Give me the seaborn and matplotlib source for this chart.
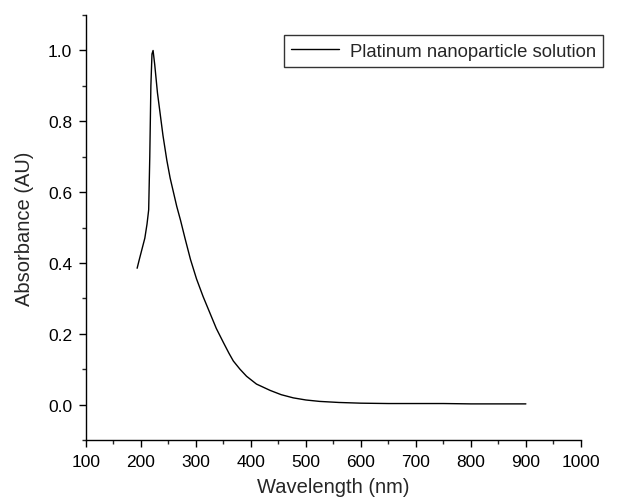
import matplotlib
matplotlib.use("Agg")
import matplotlib.pyplot as plt
import seaborn as sns
from matplotlib.ticker import MultipleLocator

wavelength = [193, 197, 202, 207, 211, 214, 216, 218, 220, 222, 225, 230, 235, 240,
              247, 253, 259, 265, 272, 280, 290, 301, 313, 325, 337, 350, 360, 368,
              380, 392, 410, 435, 455, 477, 500, 525, 560, 600, 650, 700, 750, 800,
              850, 900]
absorbance = [0.385, 0.41, 0.44, 0.47, 0.51, 0.55, 0.70, 0.90, 0.99, 1.0, 0.96, 0.88,
              0.82, 0.76, 0.69, 0.64, 0.60, 0.56, 0.52, 0.47, 0.41, 0.355, 0.305, 0.26,
              0.215, 0.175, 0.145, 0.123, 0.10, 0.08, 0.058, 0.04, 0.028, 0.019, 0.013,
              0.009, 0.006, 0.004, 0.003, 0.003, 0.003, 0.002, 0.002, 0.002]

sns.set_style("ticks")
plt.rcParams['font.family'] = ['Liberation Sans', 'DejaVu Sans']

fig = plt.figure(figsize=(6.3, 5.02), dpi=100)
ax = fig.add_axes([0.1365, 0.1215, 0.7855, 0.8465])

sns.lineplot(x=wavelength, y=absorbance, color="black", linewidth=1.0,
             label="Platinum nanoparticle solution", ax=ax)

ax.set_xlim(100, 1000)
ax.set_ylim(-0.1, 1.1)
ax.xaxis.set_major_locator(MultipleLocator(100))
ax.xaxis.set_minor_locator(MultipleLocator(50))
ax.yaxis.set_major_locator(MultipleLocator(0.2))
ax.yaxis.set_minor_locator(MultipleLocator(0.1))
ax.yaxis.set_major_formatter(plt.FormatStrFormatter('%.1f'))
ax.tick_params(which="major", direction="out", length=5, width=1, labelsize=12.5,
               colors="black", pad=5)
ax.tick_params(which="minor", direction="out", length=3, width=1)
for side in ["top", "right"]:
    ax.spines[side].set_visible(False)
for side in ["left", "bottom"]:
    ax.spines[side].set_color("black")
    ax.spines[side].set_linewidth(1)

ax.set_xlabel("Wavelength (nm)", fontsize=14.5, labelpad=6)
ax.set_ylabel("Absorbance (AU)", fontsize=14.5, labelpad=10)

leg = ax.legend(loc="upper right", bbox_to_anchor=(0.972, 0.946),
                bbox_transform=fig.transFigure, fontsize=13.3, frameon=True,
                fancybox=False, edgecolor="black", handlelength=2.6,
                handletextpad=0.55, borderpad=0.4)
leg.get_frame().set_linewidth(1)

fig.savefig("out.png", dpi=100)
